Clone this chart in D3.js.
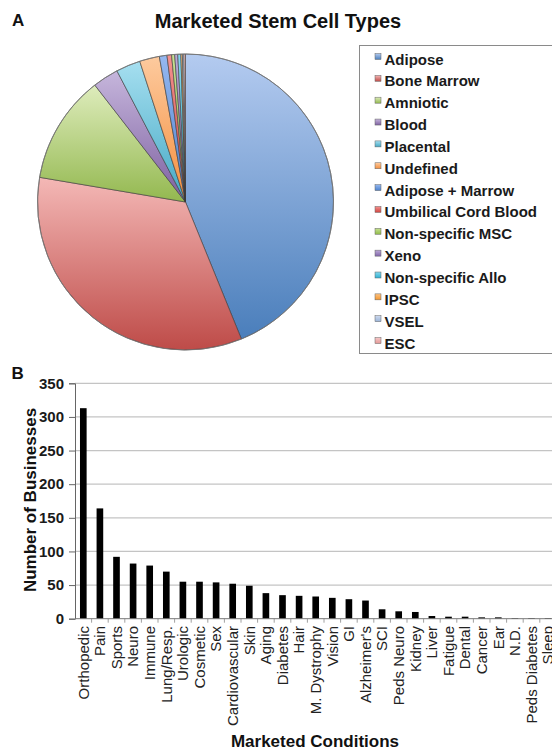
<!DOCTYPE html>
<html>
<head>
<meta charset="utf-8">
<script src="https://cdn.jsdelivr.net/npm/d3@7"></script>
<style>
  html, body { margin: 0; padding: 0; background: #fff; }
  svg { display: block; font-family: "Liberation Sans", Arial, Helvetica, sans-serif; }
</style>
</head>
<body>
<svg id="chart" width="552" height="753"></svg>
<script>
// ---- Panel A data: marketed stem cell types ----
const cellTypes = ["Adipose", "Bone Marrow", "Amniotic", "Blood", "Placental", "Undefined",
  "Adipose + Marrow", "Umbilical Cord Blood", "Non-specific MSC", "Xeno", "Non-specific Allo",
  "IPSC", "VSEL", "ESC"];
const cellCounts = [263, 203, 71, 17, 16, 13, 5, 3, 2, 2, 2, 1, 1, 1];
const cellColorsLight = ["#b4cbf0", "#f4b8b6", "#deecbc", "#c6b6dc", "#a6dff0", "#fdca9e",
  "#96b8f0", "#f49290", "#c8e294", "#bcaad8", "#86d8ec", "#fcc282", "#cdd9ee", "#f6c8c8"];
const cellColorsDark = ["#4a7ebb", "#be4b48", "#93b84f", "#7d60a0", "#44a8c4", "#f48f3e",
  "#4a80cc", "#d04440", "#8fba48", "#8064a8", "#2fb0d2", "#f3962e", "#9ab4d8", "#e49896"];

// ---- Panel B data: marketed conditions ----
const conditions = ["Orthopedic", "Pain", "Sports", "Neuro", "Immune", "Lung/Resp.", "Urologic",
  "Cosmetic", "Sex", "Cardiovascular", "Skin", "Aging", "Diabetes", "Hair", "M. Dystrophy",
  "Vision", "GI", "Alzheimer's", "SCI", "Peds Neuro", "Kidney", "Liver", "Fatigue", "Dental",
  "Cancer", "Ear", "N.D.", "Peds Diabetes", "Sleep"];
const businesses = [313, 164, 92, 82, 79, 70, 55, 55, 54, 52, 49, 38, 35, 34, 33, 31, 29, 27,
  14, 11, 10, 4, 3, 3, 2, 2, 1, 1, 1];
const yTicks = [0, 50, 100, 150, 200, 250, 300, 350];

const svg = d3.select("#chart");
const defs = svg.append("defs");

// ===== Panel A =====
svg.append("text").attr("x", 12).attr("y", 26).attr("font-size", 17).attr("font-weight", "bold")
  .attr("fill", "#111").text("A");
svg.append("text").attr("x", 278).attr("y", 28).attr("font-size", 20).attr("font-weight", "bold")
  .attr("text-anchor", "middle").attr("fill", "#111").text("Marketed Stem Cell Types");

cellTypes.forEach((t, i) => {
  const g = defs.append("linearGradient").attr("id", "grad" + i)
    .attr("x1", 0).attr("y1", 0).attr("x2", 0).attr("y2", 1);
  g.append("stop").attr("offset", "0%").attr("stop-color", cellColorsLight[i]);
  g.append("stop").attr("offset", "100%").attr("stop-color", cellColorsDark[i]);
});

const pieCx = 185.5, pieCy = 202, pieR = 148;
const pie = d3.pie().sort(null).value(d => d)(cellCounts);
const arc = d3.arc().innerRadius(0).outerRadius(pieR);
const pg = svg.append("g").attr("transform", `translate(${pieCx},${pieCy})`);
pg.selectAll("path").data(pie).join("path")
  .attr("d", arc)
  .attr("fill", (d, i) => `url(#grad${i})`)
  .attr("stroke", "#3a3a3a").attr("stroke-width", 0.6).attr("stroke-linejoin", "round");
pg.append("circle").attr("r", pieR).attr("fill", "none").attr("stroke", "#777").attr("stroke-width", 0.8);

// legend
const lg = svg.append("g");
lg.append("rect").attr("x", 359.5).attr("y", 45.5).attr("width", 220).attr("height", 308)
  .attr("fill", "#fff").attr("stroke", "#8a8a8a").attr("stroke-width", 1);
const step = 21.85;
cellTypes.forEach((t, i) => {
  const by = 64.5 + i * step;
  lg.append("rect").attr("x", 375).attr("y", by - 11).attr("width", 6).attr("height", 6)
    .attr("fill", `url(#grad${i})`).attr("stroke", "#666").attr("stroke-width", 0.5);
  lg.append("text").attr("x", 384.5).attr("y", by).attr("font-size", 15).attr("font-weight", "bold")
    .attr("fill", "#1a1a1a").text(t);
});

// ===== Panel B =====
svg.append("text").attr("x", 11.5).attr("y", 379).attr("font-size", 17).attr("font-weight", "bold")
  .attr("fill", "#111").text("B");

const x0 = 75, bandStep = 16.6;
const x = d3.scaleBand().domain(conditions).range([x0, x0 + bandStep * conditions.length])
  .paddingInner(0.6).paddingOuter(0.3);
const y = d3.scaleLinear().domain([0, 350]).range([618.7, 383.3]);

// gridlines
svg.append("g").selectAll("line").data(yTicks.filter(v => v > 0)).join("line")
  .attr("x1", x0).attr("x2", 552).attr("y1", d => y(d)).attr("y2", d => y(d))
  .attr("stroke", "#c4c4c4").attr("stroke-width", 1.3);

// bars
svg.append("g").selectAll("rect").data(businesses).join("rect")
  .attr("x", (d, i) => x(conditions[i]))
  .attr("width", x.bandwidth())
  .attr("y", d => y(d))
  .attr("height", d => y(0) - y(d))
  .attr("fill", "#000");

// y axis
const yAxis = d3.axisLeft(y).tickValues(yTicks).tickSize(6).tickPadding(5);
const yg = svg.append("g").attr("transform", `translate(${x0},0)`).call(yAxis);
yg.select(".domain").attr("stroke", "#666");
yg.selectAll(".tick line").attr("stroke", "#666");
yg.selectAll(".tick text").attr("font-size", 15).attr("font-weight", "bold")
  .attr("fill", "#1a1a1a").attr("font-family", "Liberation Sans, Arial, sans-serif");

// x axis line and ticks between categories
const xAxisG = svg.append("g");
xAxisG.append("line").attr("x1", x0).attr("x2", 552).attr("y1", y(0)).attr("y2", y(0))
  .attr("stroke", "#777").attr("stroke-width", 1);
const boundaries = conditions.map((c, i) => x0 + bandStep * (i + 1));
xAxisG.selectAll("line.tk").data(boundaries).join("line").attr("class", "tk")
  .attr("x1", d => d).attr("x2", d => d).attr("y1", y(0)).attr("y2", y(0) + 4)
  .attr("stroke", "#888").attr("stroke-width", 0.8);

// category labels
svg.append("g").selectAll("text").data(conditions).join("text")
  .attr("transform", d => `translate(${x(d) + x.bandwidth() / 2},626) rotate(-90)`)
  .attr("text-anchor", "end").attr("dy", "0.35em")
  .attr("font-size", 15).attr("fill", "#222").text(d => d);

// axis titles
svg.append("text").attr("transform", "translate(35.5,500) rotate(-90)")
  .attr("text-anchor", "middle").attr("font-size", 17).attr("font-weight", "bold")
  .attr("fill", "#111").text("Number of Businesses");
svg.append("text").attr("x", 315).attr("y", 747).attr("text-anchor", "middle")
  .attr("font-size", 17).attr("font-weight", "bold").attr("fill", "#111").text("Marketed Conditions");
</script>
</body>
</html>
